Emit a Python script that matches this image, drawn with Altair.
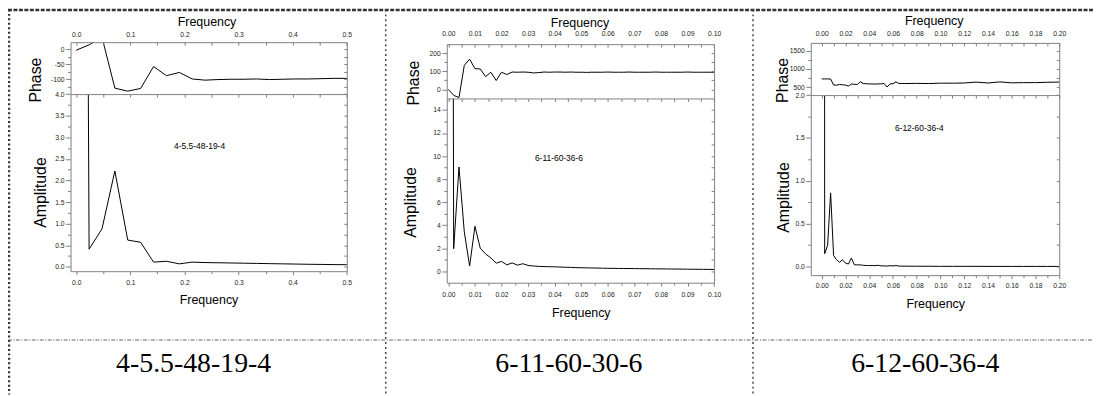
import altair as alt
import pandas as pd

# ---------------- data ----------------
p1_freq = [0.0, 0.0238, 0.0476, 0.0714, 0.0952, 0.1190, 0.1429, 0.1667, 0.1905, 0.2143,
           0.2381, 0.2619, 0.2857, 0.3095, 0.3333, 0.3571, 0.3810, 0.4048, 0.4286, 0.4524,
           0.4762, 0.5]
p1_phase = [-2, 16, 42, -130, -140, -131, -57, -88, -77, -99,
            -103, -101, -100, -100, -99, -101, -100, -99, -99, -98, -97, -97]
p1_amp = [60, 0.41, 0.88, 2.22, 0.62, 0.57, 0.11, 0.13, 0.07, 0.11,
          0.10, 0.095, 0.09, 0.085, 0.08, 0.075, 0.07, 0.065, 0.06, 0.057, 0.053, 0.05]

p2_freq = [0.000, 0.002, 0.004, 0.006, 0.008, 0.010, 0.012, 0.014, 0.016, 0.018,
           0.020, 0.022, 0.024, 0.026, 0.028, 0.030, 0.032, 0.034, 0.036, 0.038,
           0.040, 0.042, 0.044, 0.046, 0.048, 0.050, 0.052, 0.054, 0.056, 0.058,
           0.060, 0.062, 0.064, 0.066, 0.068, 0.070, 0.072, 0.074, 0.076, 0.078,
           0.080, 0.082, 0.084, 0.086, 0.088, 0.090, 0.092, 0.094, 0.096, 0.098, 0.100]
p2_phase = [0, -33, -45, 133, 167, 115, 113, 71, 95, 49,
            95, 82, 96, 95, 96, 95, 91, 93, 96, 95,
            96, 96, 95, 96, 95, 95, 94, 95, 95, 95,
            96, 95, 95, 95, 96, 95, 95, 95, 95, 96,
            95, 95, 95, 95, 95, 96, 95, 95, 95, 95, 95]
p2_amp = [200, 1.95, 9.05, 3.4, 0.45, 3.9, 2.0, 1.5, 1.15, 0.7,
          0.85, 0.55, 0.72, 0.52, 0.65, 0.5, 0.45, 0.42, 0.40, 0.39,
          0.38, 0.36, 0.34, 0.33, 0.31, 0.30, 0.29, 0.28, 0.27, 0.26,
          0.25, 0.245, 0.24, 0.235, 0.23, 0.225, 0.22, 0.215, 0.21, 0.205,
          0.20, 0.195, 0.19, 0.185, 0.18, 0.175, 0.17, 0.165, 0.16, 0.155, 0.15]

p3_freq = [0.0, 0.0025, 0.005, 0.0075, 0.01, 0.0125, 0.015, 0.0175, 0.02, 0.0225,
           0.025, 0.0275, 0.03, 0.0325, 0.035, 0.0375, 0.04, 0.0425, 0.045, 0.0475,
           0.05, 0.0525, 0.055, 0.0575, 0.06, 0.0625, 0.065, 0.0675, 0.07,
           0.08, 0.09, 0.10, 0.11, 0.12, 0.13, 0.14, 0.15, 0.16, 0.17, 0.18, 0.19, 0.20]
p3_phase = [727, 727, 727, 725, 560, 555, 575, 565, 560, 530,
            585, 580, 575, 650, 600, 595, 590, 590, 585, 590,
            590, 600, 505, 590, 595, 645, 600, 600, 600,
            605, 600, 610, 610, 615, 640, 615, 645, 620, 625, 625, 635, 640]
p3_amp = [100, 0.15, 0.25, 0.86, 0.13, 0.08, 0.05, 0.08, 0.04, 0.03,
          0.10, 0.02, 0.02, 0.02, 0.015, 0.012, 0.012, 0.012, 0.012, 0.015,
          0.008, 0.008, 0.006, 0.01, 0.008, 0.012, 0.006, 0.005, 0.005,
          0.004, 0.004, 0.003, 0.003, 0.003, 0.003, 0.002, 0.002, 0.002, 0.002,
          0.002, 0.002, 0.002]

# tick values
p1_xticks = [0.0, 0.1, 0.2, 0.3, 0.4, 0.5]
p1_xminor = [0.05, 0.15, 0.25, 0.35, 0.45]
p1_phticks = [-100, -50, 0]
p1_phminor = [-125, -75, -25]
p1_ampticks = [0.0, 0.5, 1.0, 1.5, 2.0, 2.5, 3.0, 3.5, 4.0]
p1_ampminor = [0.25, 0.75, 1.25, 1.75, 2.25, 2.75, 3.25, 3.75]

p2_xticks = [0.0, 0.01, 0.02, 0.03, 0.04, 0.05, 0.06, 0.07, 0.08, 0.09, 0.10]
p2_xminor = [0.005, 0.015, 0.025, 0.035, 0.045, 0.055, 0.065, 0.075, 0.085, 0.095]
p2_phticks = [0, 100, 200]
p2_phminor = [50, 150]
p2_ampticks = [0, 2, 4, 6, 8, 10, 12, 14]
p2_ampminor = [1, 3, 5, 7, 9, 11, 13]

p3_xticks = [0.0, 0.02, 0.04, 0.06, 0.08, 0.10, 0.12, 0.14, 0.16, 0.18, 0.20]
p3_xminor = [0.01, 0.03, 0.05, 0.07, 0.09, 0.11, 0.13, 0.15, 0.17, 0.19]
p3_phticks = [500, 1000, 1500]
p3_phminor = [750, 1250]
p3_ampticks = [0.0, 0.5, 1.0, 1.5, 2.0]
p3_ampminor = [0.25, 0.75, 1.25, 1.75]

inner_labels = ["4-5.5-48-19-4", "6-11-60-36-6", "6-12-60-36-4"]
row_labels = ["4-5.5-48-19-4", "6-11-60-30-6", "6-12-60-36-4"]

# ---------------- styling / layout ----------------
W, H = 1093, 388
FONT = "Liberation Sans, Arial, sans-serif"
SERIF = "Liberation Serif, Times New Roman, serif"
GRAY = "#808080"
LAB = "#222222"


def axis(orient, offset, values, tick=0, labels=False, fmt=None, expr=None,
         domain=False, pad=2.0, title=None, tx=0, ty=0, angle=None, tsize=12.5):
    kw = dict(orient=orient, offset=offset, values=values, grid=False, zindex=1,
              domain=domain, domainColor=GRAY, domainWidth=1, labels=labels)
    if tick > 0:
        kw.update(ticks=True, tickSize=tick, tickColor=GRAY, tickWidth=1)
    else:
        kw.update(ticks=False)
    if labels:
        kw.update(labelFont=FONT, labelFontSize=6.8, labelColor=LAB,
                  labelPadding=pad, labelFlush=False, labelOverlap=False)
        if fmt:
            kw["format"] = fmt
        if expr:
            kw["labelExpr"] = expr
    if title:
        kw.update(title=title, titleX=tx, titleY=ty, titleAlign="center",
                  titleBaseline="middle", titleFont=FONT, titleFontSize=tsize,
                  titleColor="black", titleFontWeight="normal")
        if angle is not None:
            kw["titleAngle"] = angle
    else:
        kw["title"] = None
    return alt.Axis(**kw)


def sc(dom, rng):
    return alt.Scale(domain=dom, range=rng, nice=False, zero=False)


def line(df, xs, ys, xaxis, yaxis, visible=True):
    return alt.Chart(df).mark_line(
        color="black", strokeWidth=1, strokeOpacity=1 if visible else 0
    ).encode(
        x=alt.X("f:Q", scale=xs, axis=xaxis),
        y=alt.Y("v:Q", scale=ys, axis=yaxis),
    )


def mask(x0, x1, y1):
    return alt.Chart(pd.DataFrame({"a": [0]})).mark_rect(color="white").encode(
        x=alt.value(x0), x2=alt.value(x1), y=alt.value(-20), y2=alt.value(y1)
    )


def panel(c):
    L, R = c["xr"]
    top, join, bottom = c["top"], c["join"], c["bottom"]
    xs = sc(c["xdom"], [L, R])
    ps = sc(c["phdom"], [join, top])
    as_ = sc(c["ampdom"], [bottom, join])
    dfa = pd.DataFrame({"f": c["freq"], "v": c["amp"]})
    dfp = pd.DataFrame({"f": c["freq"], "v": c["phase"]})
    allx = sorted(c["xmaj"] + c["xmin"])
    layers = []
    # amplitude
    layers.append(line(
        dfa, xs, as_,
        axis("bottom", bottom - H, c["xmaj"], tick=3.5, labels=True, fmt=c["xfmt"],
             domain=True, pad=c["botpad"], title="Frequency",
             tx=c["tbot"][0], ty=c["tbot"][1] - bottom),
        axis("left", -L, c["ampmaj"], tick=5, labels=True, fmt=c["ampfmt"],
             domain=True, pad=1.5, title="Amplitude", tx=c["tamp"][0] - L,
             ty=c["tamp"][1], angle=270, tsize=16)))
    layers.append(line(
        dfa, xs, as_,
        axis("bottom", bottom - H, c["xmin"], tick=2.5),
        axis("left", -R, sorted(c["ampmaj"] + c["ampmin"]), tick=3, domain=True),
        visible=False))
    layers.append(line(
        dfa, xs, as_, None,
        axis("left", -L, c["ampmin"], tick=3), visible=False))
    layers.append(mask(L, R, join))
    # phase
    layers.append(line(
        dfp, xs, ps,
        axis("top", -top, c["xmaj"], labels=True, fmt=c["xfmt"], domain=True,
             pad=c["toppad"], title="Frequency", tx=c["ttop"][0],
             ty=c["ttop"][1] - top),
        axis("left", -L, c["phmaj"], tick=5, labels=True, fmt=c.get("phfmt"),
             expr=c.get("phexpr"), domain=True, pad=1.5, title="Phase",
             tx=c["tph"][0] - L, ty=c["tph"][1], angle=270, tsize=16)))
    layers.append(line(
        dfp, xs, ps,
        axis("bottom", top - H, allx, tick=3),
        axis("left", -R, sorted(c["phmaj"] + c["phmin"]), tick=3, domain=True),
        visible=False))
    layers.append(line(
        dfp, xs, ps,
        axis("bottom", join - H, allx, tick=3, domain=True),
        axis("left", -L, c["phmin"], tick=3), visible=False))
    layers.append(mask(L, R, top))
    return layers


panels = [
    dict(freq=p1_freq, phase=p1_phase, amp=p1_amp,
         xdom=[-0.0105, 0.5], xr=[63, 341.3], phdom=[-150, 25], top=33, join=85.3,
         ampdom=[-0.1, 4.0], bottom=263.7,
         xmaj=p1_xticks, xmin=p1_xminor, phmaj=p1_phticks, phmin=p1_phminor,
         ampmaj=p1_ampticks, ampmin=p1_ampminor,
         xfmt=".1f", phexpr="datum.value + ''", ampfmt=".1f",
         toppad=5.1, botpad=5.2,
         ttop=(200, 12), tph=(28, 70.7), tamp=(33, 184), tbot=(202, 292)),
    dict(freq=p2_freq, phase=p2_phase, amp=p2_amp,
         xdom=[-0.0006, 0.1], xr=[442, 711.3], phdom=[-50, 250], top=35, join=89.7,
         ampdom=[-1, 15], bottom=275.3,
         xmaj=p2_xticks, xmin=p2_xminor, phmaj=p2_phticks, phmin=p2_phminor,
         ampmaj=p2_ampticks, ampmin=p2_ampminor,
         xfmt=".2f", phfmt="d", ampfmt="d",
         toppad=7.4, botpad=5.8,
         ttop=(575.7, 13), tph=(409, 73.7), tamp=(406, 194), tbot=(577, 305)),
    dict(freq=p3_freq, phase=p3_phase, amp=p3_amp,
         xdom=[-0.0092, 0.2], xr=[808.7, 1059], phdom=[283, 1717], top=33.7, join=86.3,
         ampdom=[-0.1, 2.0], bottom=267.7,
         xmaj=p3_xticks, xmin=p3_xminor, phmaj=p3_phticks, phmin=p3_phminor,
         ampmaj=p3_ampticks, ampmin=p3_ampminor,
         xfmt=".2f", phfmt="d", ampfmt=".1f",
         toppad=6.1, botpad=4.2,
         ttop=(932.5, 11), tph=(780, 71), tamp=(781, 189), tbot=(934, 296)),
]

layers = []
for c in panels:
    layers += panel(c)

# annotations inside the amplitude plots
inner_pos = [(193, 138), (555, 150), (918, 119)]
for t, (x, y) in zip(inner_labels, inner_pos):
    layers.append(alt.Chart(pd.DataFrame({"t": [t]})).mark_text(
        font=FONT, fontSize=8.5, color="black", align="center", baseline="middle"
    ).encode(text="t:N", x=alt.value(x), y=alt.value(y)))

# table row labels
row_pos = [187, 565, 924]
for t, x in zip(row_labels, row_pos):
    layers.append(alt.Chart(pd.DataFrame({"t": [t]})).mark_text(
        font=SERIF, fontSize=28, color="black", align="center", baseline="middle"
    ).encode(text="t:N", x=alt.value(x), y=alt.value(357)))

# table borders
one = pd.DataFrame({"a": [0]})
def rule(x, x2, y, y2, dash, width, color):
    return alt.Chart(one).mark_rule(strokeDash=dash, strokeWidth=width, color=color).encode(
        x=alt.value(x), x2=alt.value(x2), y=alt.value(y), y2=alt.value(y2))

layers.append(rule(0, W, 0.5, 0.5, [4, 1.5], 2.5, "#333333"))
layers.append(rule(1, 1, 0, H, [2, 2.5], 2.5, "#333333"))
layers.append(rule(380.5, 380.5, 0, H, [2, 3], 1.5, "#444444"))
layers.append(rule(750.5, 750.5, 0, H, [2, 3], 1.5, "#444444"))
layers.append(rule(0, W, 333, 333, [4, 1.5, 1, 1.5], 1.2, "#666666"))

chart = alt.layer(*layers).resolve_scale(
    x="independent", y="independent"
).resolve_axis(
    x="independent", y="independent"
).properties(
    width=W, height=H, padding=0,
    autosize=alt.AutoSizeParams(type="none"),
).configure_view(strokeWidth=0)

chart.save("out.html", embed_options={"renderer": "svg", "actions": False})
